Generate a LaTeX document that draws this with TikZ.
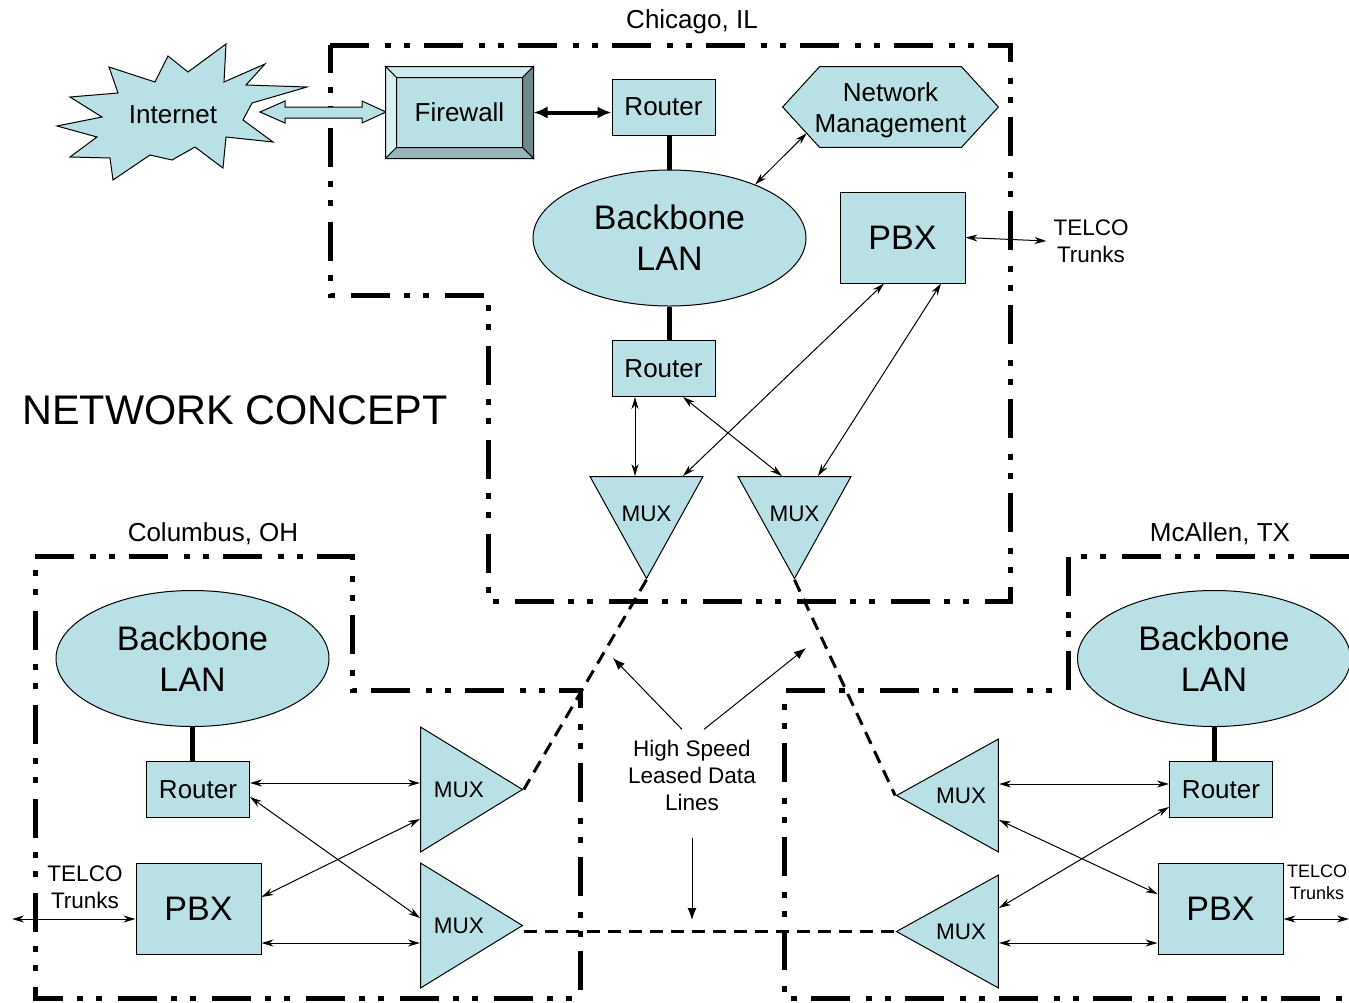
\documentclass[tikz,border=0pt]{standalone}
\usepackage{fontspec}
\setmainfont{Liberation Sans}
\usetikzlibrary{arrows.meta,calc,shapes.geometric}
\definecolor{netblue}{RGB}{185,224,228}
\definecolor{bevtop}{RGB}{206,234,237}
\definecolor{bevleft}{RGB}{218,240,242}
\definecolor{bevright}{RGB}{112,138,140}
\definecolor{bevbottom}{RGB}{152,182,185}

\begin{document}
\begin{tikzpicture}[x=0.5pt,y=-0.5pt,
	site/.style={line width=2.5pt, dash pattern=on 19.5pt off 8pt on 3pt off 6.5pt on 3pt off 7pt},
	box/.style={draw, line width=0.5pt, fill=netblue, minimum width=51.5pt, minimum height=28pt, inner sep=0pt, font=\fontsize{13}{15.6}\selectfont},
	pbx/.style={box, minimum width=62.5pt, minimum height=45.5pt, font=\fontsize{17}{20.4}\selectfont},
	fwbox/.style={box, minimum width=73.5pt, minimum height=45.5pt},
	lan/.style={ellipse, draw, line width=0.5pt, fill=netblue, minimum width=136.5pt, minimum height=68pt, inner sep=0pt, align=center, font=\fontsize{17}{20.4}\selectfont},
	mux/.style={isosceles triangle, isosceles triangle stretches, draw, line width=0.5pt, fill=netblue, inner sep=0pt, font=\fontsize{11.25}{13.5}\selectfont},
	muxdown/.style={mux, shape border rotate=270, minimum width=56.5pt, minimum height=51pt, anchor=north},
	muxright/.style={mux, shape border rotate=0, minimum width=62.5pt, minimum height=51pt, anchor=west},
	muxleft/.style={mux, shape border rotate=180, minimum width=56.5pt, minimum height=51pt, anchor=east},
	muxtext/.style={font=\fontsize{11.25}{13.5}\selectfont},
	telco/.style={align=center, font=\fontsize{11.25}{13.5}\selectfont},
	label/.style={font=\fontsize{13}{15.6}\selectfont},
	link/.style={line width=0.5pt, {Stealth[length=6pt,width=3.5pt]}-{Stealth[length=6pt,width=3.5pt]}},
	bar/.style={line width=2.5pt},
	leased/.style={line width=1.5pt, dash pattern=on 6.5pt off 4pt},
	pointer/.style={line width=0.5pt, -{Latex[length=6pt,width=4.5pt]}}]
	\useasboundingbox (0,0) rectangle (1349,1002);

	%%%%% SITES %%%%%
	\draw[site] (330,45) -- (1010,45) -- (1010,601) -- (488,601) -- (488,295) -- (330,295) -- cycle;
	\draw[site] (35,556) -- (352,556) -- (352,690) -- (580,690) -- (580,998) -- (35,998) -- cycle;
	\draw[site] (1349,556) -- (1068,556) -- (1068,690) -- (784,690) -- (784,998) -- (1349,998);

	\node[label] (chi) at (692,22) {Chicago, IL};
	\node[label] (col) at (213,534) {Columbus, OH};
	\node[label] (mca) at (1220,534) {McAllen, TX};
	\node[font=\fontsize{20.7}{24}\selectfont] (title) at (235,410) {NETWORK CONCEPT};

	%%%%% CHICAGO %%%%%
	\filldraw[line width=0.5pt, fill=netblue] (57,126) -- (102,117) -- (70,97) -- (118,93) -- (109,67) -- (155,82) -- (168,56) -- (188,72) -- (226,44) -- (224,82) -- (265,64) -- (246,85) -- (307,87) -- (252,103) -- (243,120) -- (273,142) -- (226,137) -- (223,168) -- (195,147) -- (172,160) -- (150,155) -- (113,180) -- (110,158) -- (70,157) -- (97,137) -- cycle;
	\node[label] (inet) at (173,115) {Internet};

	% fat two-way link internet - firewall
	\filldraw[line width=0.5pt, fill=netblue] (260,112) -- (285,101) -- (285,107) -- (362,107) -- (362,101) -- (386,112) -- (362,123) -- (362,118) -- (285,118) -- (285,123) -- cycle;

	\node[fwbox] (fw) at (459.5,112.5) {Firewall};
	\filldraw[line width=0.5pt, fill=bevtop] (fw.north west) -- (fw.north east) -- ([shift={(-5.5pt,-5.5pt)}]fw.north east) -- ([shift={(5.5pt,-5.5pt)}]fw.north west) -- cycle;
	\filldraw[line width=0.5pt, fill=bevleft] (fw.north west) -- ([shift={(5.5pt,-5.5pt)}]fw.north west) -- ([shift={(5.5pt,5.5pt)}]fw.south west) -- (fw.south west) -- cycle;
	\filldraw[line width=0.5pt, fill=bevright] (fw.north east) -- (fw.south east) -- ([shift={(-5.5pt,5.5pt)}]fw.south east) -- ([shift={(-5.5pt,-5.5pt)}]fw.north east) -- cycle;
	\filldraw[line width=0.5pt, fill=bevbottom] (fw.south west) -- (fw.south east) -- ([shift={(-5.5pt,5.5pt)}]fw.south east) -- ([shift={(5.5pt,5.5pt)}]fw.south west) -- cycle;

	\node[box] (crta) at (663.5,107) {Router};
	\node[lan] (clan) at (669.5,238) {Backbone\\LAN};
	\node[minimum width=107.5pt, minimum height=40pt, inner sep=0pt] (nm) at (890.5,107) {};
	\filldraw[line width=0.5pt, fill=netblue] (nm.west) -- ([xshift=18.5pt]nm.north west) -- ([xshift=-18.5pt]nm.north east) -- (nm.east) -- ([xshift=-18.5pt]nm.south east) -- ([xshift=18.5pt]nm.south west) -- cycle;
	\node[label, align=center] (nmtext) at ([yshift=-1.5pt]nm.center) {Network\\Management};
	\node[pbx] (cpbx) at (902.5,237.5) {PBX};
	\node[telco] (ctel) at (1091,241) {TELCO\\Trunks};
	\node[box] (crtb) at (663.5,368.5) {Router};
	\node[muxdown] (cmuxa) at (646.5,476) {};
	\node[muxdown] (cmuxb) at (794.5,476) {};
	\node[muxtext] (cmuxatext) at ([yshift=-19pt]cmuxa.north) {MUX};
	\node[muxtext] (cmuxbtext) at ([yshift=-19pt]cmuxb.north) {MUX};

	\draw[line width=2pt, {Latex[length=7pt,width=6pt]}-{Latex[length=7pt,width=6pt]}] (fw.east) -- (fw.east -| crta.west);
	\draw[bar] (clan.north |- crta.south) -- (clan.north);
	\draw[bar] (clan.south) -- (clan.south |- crtb.north);
	\draw[link] ($(nm.west)!0.65!([xshift=18.5pt]nm.south west)$) -- (clan.32);
	\draw[link] (cpbx.east) -- (ctel.west);
	\draw[link] ([xshift=-14.25pt]crtb.south) -- ([xshift=-5.75pt]cmuxa.north);
	\draw[link] ([xshift=9.75pt]crtb.south) -- ([xshift=-6.25pt]cmuxb.north);
	\draw[link] ([xshift=-9.25pt]cpbx.south) -- ([xshift=18.25pt]cmuxa.north);
	\draw[link] ([xshift=19.25pt]cpbx.south) -- ([xshift=11.75pt]cmuxb.north);

	%%%%% COLUMBUS %%%%%
	\node[lan] (blan) at (192.5,658.5) {Backbone\\LAN};
	\node[box] (brt) at (198,789.5) {Router};
	\node[pbx] (bpbx) at (198.5,908.5) {PBX};
	\node[muxright] (bmuxa) at (420,789.5) {MUX};
	\node[muxright] (bmuxb) at (420,925.5) {MUX};
	\node[telco] (btel) at (85,887) {TELCO\\Trunks};
	\coordinate (btrunk) at (12,919);

	\draw[bar] (blan.south) -- (blan.south |- brt.north);
	\draw[link] ([yshift=3.25pt]brt.east) -- ([yshift=3.25pt]bmuxa.west);
	\draw[link] ([yshift=-3.75pt]brt.east) -- ([yshift=3.75pt]bmuxb.west);
	\draw[link] ([yshift=5.75pt]bpbx.east) -- ([yshift=-14.75pt]bmuxa.west);
	\draw[link] ([yshift=-17.25pt]bpbx.east) -- ([yshift=-8.75pt]bmuxb.west);
	\draw[link] (btrunk) -- ([yshift=-5.25pt]bpbx.west);

	%%%%% MCALLEN %%%%%
	\node[lan] (mlan) at (1214,658.5) {Backbone\\LAN};
	\node[box] (mrt) at (1221,789.5) {Router};
	\node[pbx] (mpbx) at (1220.5,908.5) {PBX};
	\node[muxleft] (mmuxa) at (999,795.5) {MUX};
	\node[muxleft] (mmuxb) at (999,931.5) {MUX};
	\node[align=center, font=\fontsize{9}{10.8}\selectfont] (mtel) at (1317,882) {TELCO\\Trunks};
	\coordinate (mtrunk) at (1349,919);

	\draw[bar] (mlan.south) -- (mlan.south |- mrt.north);
	\draw[link] ([yshift=5.75pt]mmuxa.east) -- ([yshift=2.75pt]mrt.west);
	\draw[link] ([yshift=-12.25pt]mmuxa.east) -- ([yshift=7.25pt]mpbx.west);
	\draw[link] ([yshift=-8.75pt]mrt.west) -- ([yshift=11.75pt]mmuxb.east);
	\draw[link] ([yshift=-5.75pt]mmuxb.east) -- ([yshift=-17.25pt]mpbx.west);
	\draw[link] ([yshift=-5.25pt]mpbx.east) -- (mtrunk);

	%%%%% LEASED LINES %%%%%
	\draw[leased] (cmuxa.apex) -- (bmuxa.apex);
	\draw[leased] (cmuxb.apex) -- (mmuxa.apex);
	\draw[leased] (bmuxb.apex |- mmuxb.apex) -- (mmuxb.apex);

	\node[telco, inner sep=5pt] (hs) at (692,775) {High Speed\\Leased Data\\Lines};
	\coordinate (hsa) at (613,658);
	\coordinate (hsb) at (806,648);
	\coordinate (hsc) at (692,920);
	\draw[pointer] ([xshift=-5pt]hs.north) -- (hsa);
	\draw[pointer] ([xshift=6pt]hs.north) -- (hsb);
	\draw[pointer] ([yshift=-8.5pt]hs.south) -- (hsc);
\end{tikzpicture}
\end{document}
